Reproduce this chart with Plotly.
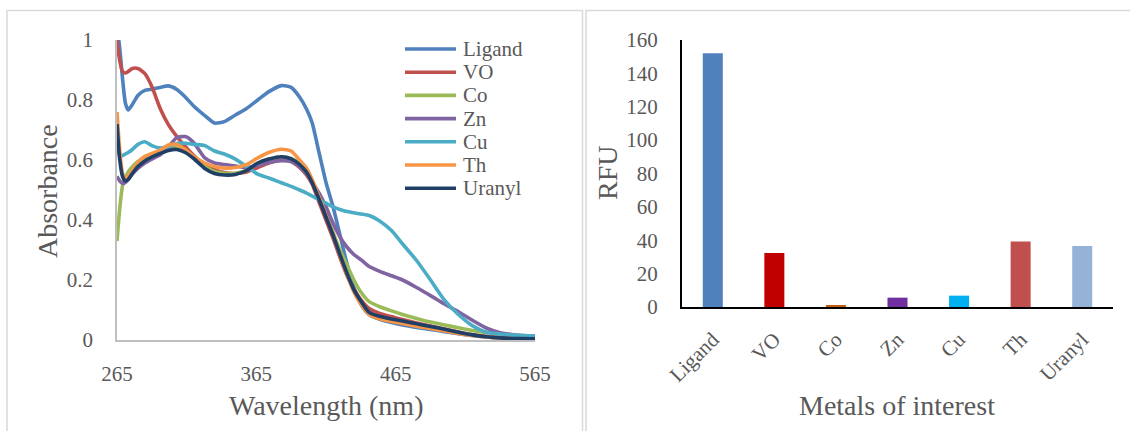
import plotly.graph_objects as go

W, H = 1130, 431
FONT = "Liberation Serif"
GREY_TXT = "#595959"

# ---- UV-Vis absorption spectra ----
wavelength = [265, 267, 269, 271, 273, 276, 280, 285, 290, 296, 302, 308, 314, 320,
              328, 335, 342, 350, 358, 366, 374, 383, 390, 396, 401, 405, 410, 415,
              420, 425, 430, 435, 440, 446, 454, 462, 470, 480, 490, 500, 510, 520,
              530, 540, 552, 565]

ligand = [1.05, 0.97, 0.87, 0.79, 0.767, 0.785, 0.815, 0.832, 0.836, 0.842, 0.847, 0.835,
          0.81, 0.78, 0.748, 0.723, 0.728, 0.75, 0.772, 0.80, 0.828, 0.848, 0.842, 0.81,
          0.77, 0.725, 0.625, 0.525, 0.445, 0.35, 0.255, 0.175, 0.12, 0.085, 0.068, 0.058,
          0.05, 0.042, 0.035, 0.028, 0.021, 0.015, 0.01, 0.007, 0.005, 0.004]
vo = [1.0, 0.93, 0.895, 0.89, 0.895, 0.905, 0.905, 0.888, 0.845, 0.772, 0.717, 0.678,
      0.645, 0.615, 0.585, 0.568, 0.558, 0.555, 0.56, 0.575, 0.59, 0.60, 0.595, 0.575,
      0.55, 0.52, 0.46, 0.40, 0.34, 0.275, 0.215, 0.17, 0.135, 0.105, 0.088, 0.078,
      0.068, 0.057, 0.047, 0.037, 0.027, 0.018, 0.012, 0.009, 0.007, 0.006]
co = [0.33, 0.44, 0.515, 0.54, 0.56, 0.578, 0.595, 0.608, 0.618, 0.628, 0.638, 0.64,
      0.63, 0.608, 0.578, 0.562, 0.556, 0.556, 0.566, 0.588, 0.603, 0.61, 0.605, 0.588,
      0.565, 0.533, 0.478, 0.42, 0.36, 0.30, 0.25, 0.20, 0.16, 0.128, 0.11, 0.097,
      0.085, 0.072, 0.06, 0.05, 0.041, 0.032, 0.025, 0.02, 0.016, 0.014]
zn = [0.545, 0.53, 0.522, 0.525, 0.535, 0.553, 0.572, 0.59, 0.603, 0.617, 0.645, 0.675,
      0.678, 0.658, 0.607, 0.59, 0.585, 0.58, 0.575, 0.582, 0.592, 0.598, 0.595, 0.578,
      0.555, 0.527, 0.49, 0.444, 0.39, 0.344, 0.31, 0.285, 0.268, 0.245, 0.228, 0.214,
      0.20, 0.175, 0.148, 0.12, 0.094, 0.066, 0.04, 0.024, 0.016, 0.012]
cu = [0.65, 0.615, 0.615, 0.62, 0.625, 0.635, 0.652, 0.661, 0.648, 0.64, 0.645, 0.655,
      0.656, 0.652, 0.648, 0.63, 0.62, 0.603, 0.578, 0.553, 0.54, 0.524, 0.512, 0.50,
      0.49, 0.48, 0.468, 0.456, 0.444, 0.435, 0.428, 0.424, 0.42, 0.415, 0.395, 0.365,
      0.32, 0.265, 0.20, 0.133, 0.085, 0.048, 0.026, 0.02, 0.016, 0.014]
th = [0.76, 0.63, 0.555, 0.54, 0.545, 0.565, 0.592, 0.612, 0.622, 0.633, 0.65, 0.652,
      0.635, 0.612, 0.59, 0.578, 0.573, 0.575, 0.585, 0.607, 0.625, 0.636, 0.63, 0.60,
      0.573, 0.535, 0.478, 0.415, 0.352, 0.283, 0.218, 0.16, 0.12, 0.085, 0.07, 0.062,
      0.055, 0.046, 0.038, 0.03, 0.022, 0.015, 0.01, 0.006, 0.004, 0.003]
uranyl = [0.72, 0.60, 0.545, 0.53, 0.535, 0.555, 0.578, 0.597, 0.61, 0.622, 0.632, 0.635,
          0.625, 0.605, 0.572, 0.555, 0.55, 0.552, 0.565, 0.59, 0.603, 0.611, 0.604, 0.585,
          0.56, 0.525, 0.47, 0.41, 0.35, 0.285, 0.223, 0.168, 0.13, 0.092, 0.078, 0.07,
          0.063, 0.054, 0.045, 0.036, 0.026, 0.017, 0.011, 0.007, 0.005, 0.004]

series_names = ["Ligand", "VO", "Co", "Zn", "Cu", "Th", "Uranyl"]
series_values = [ligand, vo, co, zn, cu, th, uranyl]
series_colors = ["#4F81BD", "#C0504D", "#9BBB59", "#8064A2", "#4BACC6", "#F79646", "#1F3F66"]
wl_ticks = [265, 365, 465, 565]
abs_ticks = [0, 0.2, 0.4, 0.6, 0.8, 1]

# ---- Fluorescence response ----
metals = ["Ligand", "VO", "Co", "Zn", "Cu", "Th", "Uranyl"]
rfu = [152, 32.3, 1.2, 5.6, 6.8, 39.2, 36.6]
bar_colors = ["#4F81BD", "#C00000", "#C55A11", "#7030A0", "#00B0F0", "#C0504D", "#95B3D7"]
rfu_ticks = [0, 20, 40, 60, 80, 100, 120, 140, 160]


def px(x):
    return x / W


def py(y):
    return 1 - y / H


fig = go.Figure()

for name, vals, col in zip(series_names, series_values, series_colors):
    fig.add_trace(go.Scatter(
        x=wavelength, y=vals, name=name, mode="lines",
        line=dict(color=col, width=3.6, shape="spline", smoothing=0.6),
        xaxis="x", yaxis="y", showlegend=False,
    ))

fig.add_trace(go.Bar(
    x=metals, y=rfu, marker=dict(color=bar_colors, line=dict(width=0)),
    xaxis="x2", yaxis="y2", showlegend=False,
))

tickfont = dict(family=FONT, size=21, color=GREY_TXT)
common = dict(showgrid=False, zeroline=False, showline=True, ticks="",
              automargin=False, tickfont=tickfont)

fig.update_layout(
    template="none",
    width=W, height=H,
    margin=dict(l=0, r=0, t=0, b=0, pad=0),
    paper_bgcolor="white", plot_bgcolor="white",
    showlegend=False,
    bargap=0.675,
    xaxis=dict(
        domain=[px(117), px(535)], range=[265, 565],
        tickvals=wl_ticks, ticktext=[str(v) for v in wl_ticks],
        linecolor="#BFBFBF", linewidth=1.5, ticklabelstandoff=14, anchor="y", **common,
    ),
    yaxis=dict(
        domain=[py(340), py(40)], range=[0, 1],
        tickvals=abs_ticks, ticktext=["0", "0.2", "0.4", "0.6", "0.8", "1"],
        linecolor="#BFBFBF", linewidth=1.5, ticklabelstandoff=18, anchor="x", **common,
    ),
    xaxis2=dict(
        domain=[px(682), px(1113)], type="category",
        linecolor="black", linewidth=2, tickangle=-45, ticklabelstandoff=10,
        anchor="y2", **common,
    ),
    yaxis2=dict(
        domain=[py(307), py(40)], range=[0, 160], tickvals=rfu_ticks,
        linecolor="black", linewidth=2, ticklabelstandoff=18, anchor="x2", **common,
    ),
)

title_font = dict(family=FONT, size=28, color=GREY_TXT)
annotations = [
    dict(text="Wavelength (nm)", x=px(326), y=py(405), xref="paper", yref="paper",
         showarrow=False, font=title_font, xanchor="center", yanchor="middle"),
    dict(text="Absorbance", x=px(47), y=py(191), xref="paper", yref="paper",
         showarrow=False, font=title_font, textangle=-90, xanchor="center", yanchor="middle"),
    dict(text="Metals of interest", x=px(897), y=py(405), xref="paper", yref="paper",
         showarrow=False, font=title_font, xanchor="center", yanchor="middle"),
    dict(text="RFU", x=px(607), y=py(173), xref="paper", yref="paper",
         showarrow=False, font=title_font, textangle=-90, xanchor="center", yanchor="middle"),
]

shapes = [
    # panel frames
    dict(type="rect", xref="paper", yref="paper", x0=px(7), x1=px(582.5), y0=-0.05, y1=py(10.5),
         line=dict(color="#D9D9D9", width=1.5), fillcolor="rgba(0,0,0,0)", layer="below"),
    dict(type="rect", xref="paper", yref="paper", x0=px(586), x1=1.05, y0=-0.05, y1=py(10.5),
         line=dict(color="#D9D9D9", width=1.5), fillcolor="rgba(0,0,0,0)", layer="below"),
]

# legend for the spectra
for i, (name, col) in enumerate(zip(series_names, series_colors)):
    yc = 49 + i * 23.2
    shapes.append(dict(type="line", xref="paper", yref="paper",
                       x0=px(405), x1=px(456), y0=py(yc), y1=py(yc),
                       line=dict(color=col, width=3.6)))
    annotations.append(dict(text=name, x=px(461), y=py(yc), xref="paper", yref="paper",
                            showarrow=False, xanchor="left", yanchor="middle",
                            font=dict(family=FONT, size=21, color=GREY_TXT)))

fig.update_layout(annotations=annotations, shapes=shapes)

fig.write_html("out.html")
